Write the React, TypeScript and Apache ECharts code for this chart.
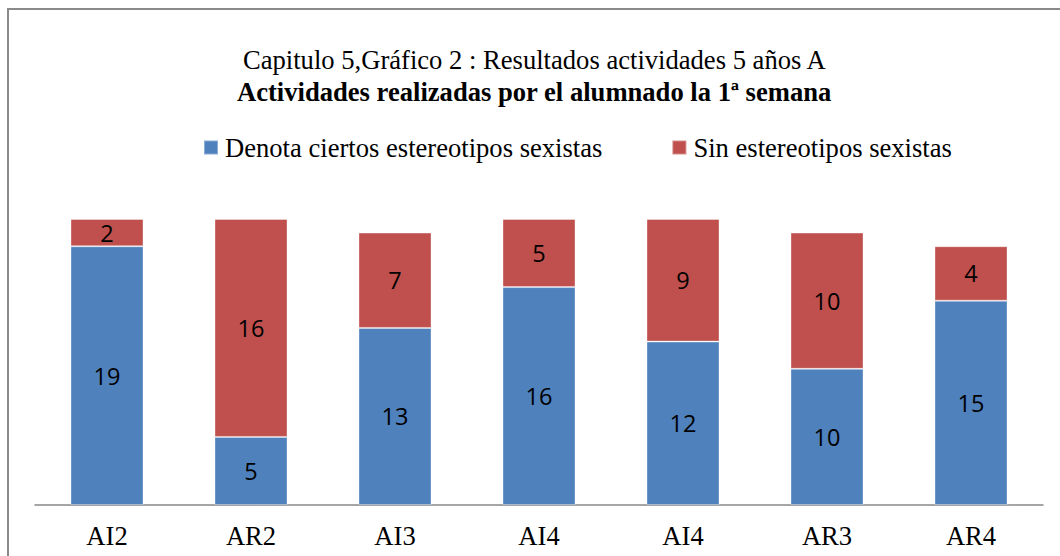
import React, { useEffect, useRef } from "react";
import * as echarts from "echarts";

const categories = ["AI2", "AR2", "AI3", "AI4", "AI4", "AR3", "AR4"];
const denotaValues = [19, 5, 13, 16, 12, 10, 15];
const sinValues = [2, 16, 7, 5, 9, 10, 4];
const seriesNames = ["Denota ciertos estereotipos sexistas", "Sin estereotipos sexistas"];
const titleLine1 = "Capitulo 5,Gráfico 2 : Resultados actividades 5 años A";
const titleLine2 = "Actividades realizadas por el alumnado la 1ª semana";

const SERIF = "'Liberation Serif', 'Times New Roman', serif";
const SANS = "'Open Sans', 'Liberation Sans', sans-serif";

export default function App() {
  const ref = useRef<HTMLDivElement>(null);
  useEffect(() => {
    document.body.style.margin = "0";
    if (!ref.current) return;
    const chart = echarts.init(ref.current, undefined, { renderer: "svg" });
    const label = {
      show: true,
      position: "inside",
      color: "#000",
      fontFamily: SANS,
      fontSize: 23.5,
    };
    chart.setOption({
      animation: false,
      backgroundColor: "#fff",
      title: [
        {
          text: titleLine1,
          left: 243,
          top: 47,
          padding: 0,
          textStyle: { fontFamily: SERIF, fontSize: 26.6, fontWeight: "normal", color: "#000", lineHeight: 26 },
        },
        {
          text: titleLine2,
          left: 237,
          top: 79,
          padding: 0,
          textStyle: { fontFamily: SERIF, fontSize: 26.6, fontWeight: "bold", color: "#000", lineHeight: 26 },
        },
      ],
      legend: {
        left: 203,
        top: 134,
        padding: 0,
        itemWidth: 14,
        itemHeight: 14,
        itemGap: 69,
        icon: "rect",
        selectedMode: false,
        textStyle: { fontFamily: SERIF, fontSize: 26.6, color: "#000", padding: [0, 0, 0, 2], lineHeight: 26 },
        data: seriesNames,
      },
      graphic: [
        {
          type: "rect",
          shape: { x: 8, y: 9, width: 1200, height: 700 },
          style: { fill: "none", stroke: "#8a8a8a", lineWidth: 2 },
          silent: true,
        },
      ],
      grid: { left: 35, right: 17, top: 219, bottom: 51 },
      xAxis: {
        type: "category",
        data: categories,
        axisLine: { lineStyle: { color: "#888", width: 1.5 } },
        axisTick: { show: false },
        axisLabel: { fontFamily: SERIF, fontSize: 26.6, color: "#000", margin: 17, interval: 0 },
      },
      yAxis: {
        type: "value",
        min: 0,
        max: 21,
        show: false,
        splitLine: { show: false },
      },
      series: [
        {
          name: seriesNames[0],
          type: "bar",
          stack: "total",
          barWidth: 73,
          data: denotaValues,
          itemStyle: { color: "#4F81BD", borderColor: "rgba(255,255,255,0.35)", borderWidth: 1 },
          label,
        },
        {
          name: seriesNames[1],
          type: "bar",
          stack: "total",
          barWidth: 73,
          data: sinValues,
          itemStyle: { color: "#C0504D", borderColor: "rgba(255,255,255,0.35)", borderWidth: 1 },
          label,
        },
      ],
    });
    return () => chart.dispose();
  }, []);
  return <div ref={ref} style={{ width: 1060, height: 556 }} />;
}
